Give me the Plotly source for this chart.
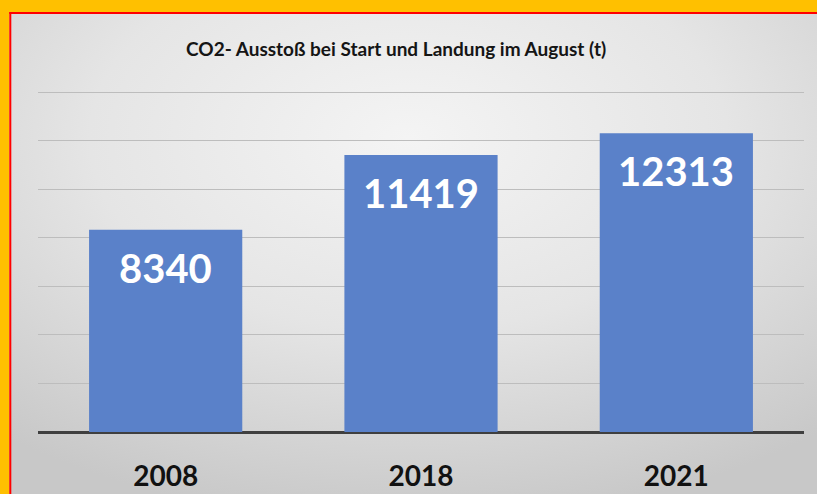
import base64
import plotly.graph_objects as go

categories = ["2008", "2018", "2021"]
values = [8340, 11419, 12313]
title_text = "CO2- Ausstoß bei Start und Landung im August (t)"

W, H = 817, 494
L, R, T, B = 38, 13, 90, 62
pw, ph = W - L - R, H - T - B

svg = f'''<svg xmlns="http://www.w3.org/2000/svg" width="{W}" height="{H}" viewBox="0 0 {W} {H}" preserveAspectRatio="none">
<defs><radialGradient id="g" cx="0.5" cy="0.28" r="0.78">
<stop offset="0" stop-color="#F4F4F4"/><stop offset="0.5" stop-color="#E5E5E5"/><stop offset="1" stop-color="#C8C8C8"/>
</radialGradient></defs>
<rect x="0" y="0" width="{W}" height="{H}" fill="url(#g)"/>
<rect x="0" y="0" width="{W}" height="12" fill="#FFC000"/>
<rect x="0" y="0" width="9.3" height="{H}" fill="#FFC000"/>
<rect x="9.3" y="12" width="{W}" height="2" fill="#FF0000"/>
<rect x="9.3" y="12" width="2" height="{H}" fill="#FF0000"/>
</svg>'''
src = "data:image/svg+xml;base64," + base64.b64encode(svg.encode()).decode()

FONT = "Lato, Open Sans, sans-serif"

fig = go.Figure(go.Bar(
    x=categories, y=values,
    marker=dict(color="#5A81C9", line=dict(width=0)),
    hoverinfo="skip",
))

for i, v in enumerate(values):
    fig.add_annotation(x=i, y=v, text=str(v), showarrow=False,
                       yshift=-38, yanchor="middle",
                       font=dict(family=FONT, size=40, color="white", weight="bold"))

fig.add_annotation(xref="paper", yref="paper", x=(396 - L) / pw, y=1 + (T - 48) / ph,
                   text=title_text, showarrow=False, xanchor="center", yanchor="middle",
                   font=dict(family=FONT, size=19, color="#151515", weight="bold"))

fig.add_layout_image(dict(source=src, xref="paper", yref="paper",
                          x=-L / pw, y=1 + T / ph, sizex=W / pw, sizey=H / ph,
                          xanchor="left", yanchor="top", sizing="stretch", layer="below"))

fig.update_layout(
    template="none",
    width=W, height=H,
    margin=dict(l=L, r=R, t=T, b=B, pad=0),
    paper_bgcolor="#E0E0E0", plot_bgcolor="rgba(0,0,0,0)",
    showlegend=False, bargap=0.4,
    xaxis=dict(type="category", range=[-0.5, len(categories) - 0.5],
               showgrid=False, showline=False, zeroline=False,
               ticks="outside", ticklen=19, tickcolor="rgba(0,0,0,0)", automargin=False,
               tickfont=dict(family=FONT, size=28, color="#111111", weight="bold"),
               fixedrange=True),
    yaxis=dict(range=[0, 14100], tick0=0, dtick=2000, showticklabels=False, showgrid=True,
               gridcolor="#BDBDBD", gridwidth=1, zeroline=True, zerolinecolor="#3F3F3F",
               zerolinewidth=2.5, showline=False, fixedrange=True, automargin=False),
)

fig.write_html("out.html", config={"displayModeBar": False},
               post_script="document.body.style.margin='0';")
